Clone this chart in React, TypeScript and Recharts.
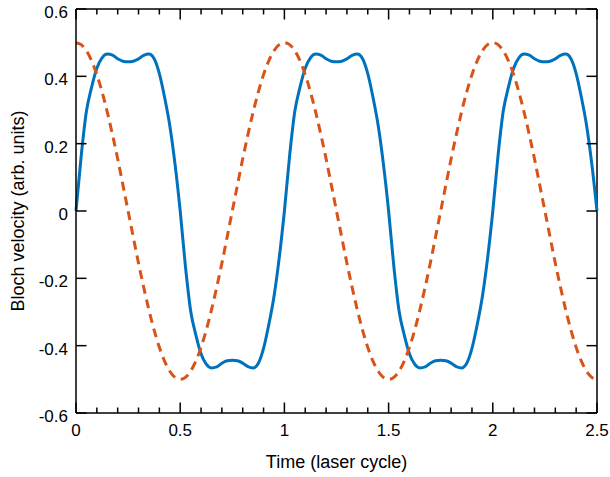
import React from 'react';
import { LineChart, Line, XAxis, YAxis, ReferenceLine } from 'recharts';

// time grid (laser cycles), step 0.025
const time = [
  0, 0.025, 0.05, 0.075, 0.1, 0.125, 0.15, 0.175, 0.2, 0.225,
  0.25, 0.275, 0.3, 0.325, 0.35, 0.375, 0.4, 0.425, 0.45, 0.475,
  0.5, 0.525, 0.55, 0.575, 0.6, 0.625, 0.65, 0.675, 0.7, 0.725,
  0.75, 0.775, 0.8, 0.825, 0.85, 0.875, 0.9, 0.925, 0.95, 0.975,
  1, 1.025, 1.05, 1.075, 1.1, 1.125, 1.15, 1.175, 1.2, 1.225,
  1.25, 1.275, 1.3, 1.325, 1.35, 1.375, 1.4, 1.425, 1.45, 1.475,
  1.5, 1.525, 1.55, 1.575, 1.6, 1.625, 1.65, 1.675, 1.7, 1.725,
  1.75, 1.775, 1.8, 1.825, 1.85, 1.875, 1.9, 1.925, 1.95, 1.975,
  2, 2.025, 2.05, 2.075, 2.1, 2.125, 2.15, 2.175, 2.2, 2.225,
  2.25, 2.275, 2.3, 2.325, 2.35, 2.375, 2.4, 2.425, 2.45, 2.475,
  2.5,
];

// Bloch velocity (solid blue)
const blochVelocity = [
  0, 0.164, 0.296, 0.368, 0.424, 0.455, 0.466, 0.463, 0.452, 0.445,
  0.443, 0.445, 0.452, 0.462, 0.466, 0.452, 0.408, 0.338, 0.254, 0.14,
  0, -0.164, -0.296, -0.368, -0.424, -0.455, -0.466, -0.463, -0.452, -0.445,
  -0.443, -0.445, -0.452, -0.462, -0.466, -0.452, -0.408, -0.338, -0.254, -0.14,
  0, 0.164, 0.296, 0.368, 0.424, 0.455, 0.466, 0.463, 0.452, 0.445,
  0.443, 0.445, 0.452, 0.462, 0.466, 0.452, 0.408, 0.338, 0.254, 0.14,
  0, -0.164, -0.296, -0.368, -0.424, -0.455, -0.466, -0.463, -0.452, -0.445,
  -0.443, -0.445, -0.452, -0.462, -0.466, -0.452, -0.408, -0.338, -0.254, -0.14,
  0, 0.164, 0.296, 0.368, 0.424, 0.455, 0.466, 0.463, 0.452, 0.445,
  0.443, 0.445, 0.452, 0.462, 0.466, 0.452, 0.408, 0.338, 0.254, 0.14,
  0,
];

// laser field (dashed orange)
const laserField = [
  0.5, 0.494, 0.476, 0.446, 0.405, 0.354, 0.294, 0.227, 0.155, 0.078,
  0, -0.078, -0.155, -0.227, -0.294, -0.354, -0.405, -0.446, -0.476, -0.494,
  -0.5, -0.494, -0.476, -0.446, -0.405, -0.354, -0.294, -0.227, -0.155, -0.078,
  0, 0.078, 0.155, 0.227, 0.294, 0.354, 0.405, 0.446, 0.476, 0.494,
  0.5, 0.494, 0.476, 0.446, 0.405, 0.354, 0.294, 0.227, 0.155, 0.078,
  0, -0.078, -0.155, -0.227, -0.294, -0.354, -0.405, -0.446, -0.476, -0.494,
  -0.5, -0.494, -0.476, -0.446, -0.405, -0.354, -0.294, -0.227, -0.155, -0.078,
  0, 0.078, 0.155, 0.227, 0.294, 0.354, 0.405, 0.446, 0.476, 0.494,
  0.5, 0.494, 0.476, 0.446, 0.405, 0.354, 0.294, 0.227, 0.155, 0.078,
  0, -0.078, -0.155, -0.227, -0.294, -0.354, -0.405, -0.446, -0.476, -0.494,
  -0.5,
];

const xTicks = [
  0, 0.1, 0.2, 0.3, 0.4, 0.5, 0.6, 0.7, 0.8, 0.9, 1, 1.1, 1.2, 1.3,
  1.4, 1.5, 1.6, 1.7, 1.8, 1.9, 2, 2.1, 2.2, 2.3, 2.4, 2.5,
];
const yTicks = [-0.6, -0.4, -0.2, 0, 0.2, 0.4, 0.6];

const data = time.map((t, i) => ({ t, v: blochVelocity[i], f: laserField[i] }));

const FONT = 'Liberation Sans, Arial, sans-serif';
const TOP = 9; // plot top edge (margin.top)
const RIGHT = 597; // plot right edge (610 - margin.right)
const OFF = 8; // default tickSize + tickMargin
const fmt = (v: number) => String(Math.round(v * 10) / 10);
const isMajor = (v: number) => Math.abs(v * 2 - Math.round(v * 2)) < 1e-6;

// inward ticks on all four sides, drawn from the bottom and left axes
const BottomTick = (props: any) => {
  const x = Number(props.x);
  const axisY = Number(props.y) - OFF;
  const len = isMajor(props.payload.value) ? 10.5 : 5.5;
  return (
    <g>
      <line x1={x} x2={x} y1={axisY} y2={axisY - len} stroke="#000" strokeWidth={1.5} />
      <line x1={x} x2={x} y1={TOP} y2={TOP + len} stroke="#000" strokeWidth={1.5} />
      {isMajor(props.payload.value) && (
        <text x={x} y={axisY + 23} textAnchor="middle" fontSize={17} fontFamily={FONT} fill="#000">
          {fmt(props.payload.value)}
        </text>
      )}
    </g>
  );
};

const LeftTick = (props: any) => {
  const axisX = Number(props.x) + OFF;
  const y = Number(props.y);
  return (
    <g>
      <line x1={axisX} x2={axisX + 10.5} y1={y} y2={y} stroke="#000" strokeWidth={1.5} />
      <line x1={RIGHT} x2={RIGHT - 10.5} y1={y} y2={y} stroke="#000" strokeWidth={1.5} />
      <text x={axisX - 8} y={y + 9} textAnchor="end" fontSize={17} fontFamily={FONT} fill="#000">
        {fmt(props.payload.value)}
      </text>
    </g>
  );
};

export default function App() {
  return (
    <div style={{ position: 'absolute', left: 0, top: 0 }}>
      <LineChart width={610} height={477} data={data} margin={{ top: TOP, right: 610 - RIGHT, left: 0, bottom: 0 }}>
        <XAxis
          dataKey="t"
          type="number"
          domain={[0, 2.5]}
          ticks={xTicks}
          interval={0}
          height={64}
          tickLine={false}
          stroke="#000"
          axisLine={{ stroke: '#000', strokeWidth: 1.5 }}
          tick={BottomTick}
          label={{ value: 'Time (laser cycle)', position: 'insideBottom', offset: 9, fontSize: 18, fontFamily: FONT, fill: '#000' }}
        />
        <YAxis
          type="number"
          domain={[-0.6, 0.6]}
          ticks={yTicks}
          interval={0}
          width={76}
          tickLine={false}
          stroke="#000"
          axisLine={{ stroke: '#000', strokeWidth: 1.5 }}
          tick={LeftTick}
          label={{ value: 'Bloch velocity (arb. units)', angle: -90, position: 'insideLeft', offset: 18, fontSize: 18, fontFamily: FONT, fill: '#000', style: { textAnchor: 'middle' } }}
        />
        <ReferenceLine y={0.6} stroke="#000" strokeWidth={1.5} />
        <ReferenceLine x={2.5} stroke="#000" strokeWidth={1.5} />
        <Line type="monotone" dataKey="v" stroke="#0072BD" strokeWidth={3} dot={false} isAnimationActive={false} />
        <Line type="monotone" dataKey="f" stroke="#D95319" strokeWidth={3} strokeDasharray="9 6" dot={false} isAnimationActive={false} />
      </LineChart>
    </div>
  );
}
